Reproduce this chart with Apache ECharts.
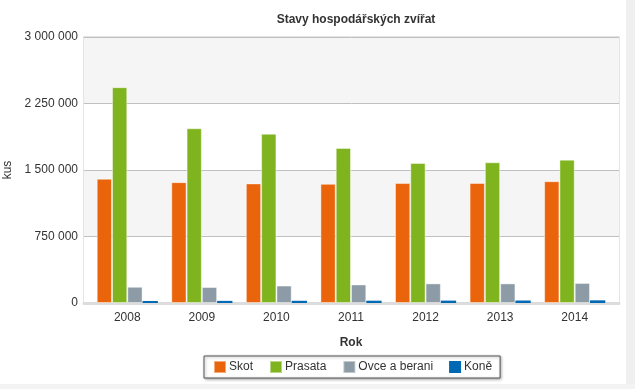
<!DOCTYPE html>
<html><head><meta charset="utf-8">
<script src="https://cdn.jsdelivr.net/npm/echarts@6/dist/echarts.min.js"></script>
<style>html,body{margin:0;padding:0;background:#fff}#c{width:635px;height:389px}</style>
</head><body><div id="c"></div>
<script>
var years = ['2008','2009','2010','2011','2012','2013','2014'];
var skot = [1402000, 1363000, 1349000, 1344000, 1353000, 1354000, 1374000];
var prasata = [2434000, 1971000, 1909000, 1749000, 1579000, 1587000, 1617000];
var ovce = [183000, 180000, 197000, 209000, 221000, 221000, 226000];
var kone = [23000, 24000, 25000, 26000, 27000, 28000, 30000];
var seriesNames = ['Skot','Prasata','Ovce a berani','Koně'];
var yTicks = [0, 750000, 1500000, 2250000, 3000000];
var colors = ['#EA640C','#7FB41E','#8C9BA5','#0069B4'];
var font = '"Liberation Sans", Arial, sans-serif';
function fmt(v){ return String(v).replace(/\B(?=(\d{3})+(?!\d))/g,' '); }
var chart = echarts.init(document.getElementById('c'));
var datas = [skot, prasata, ovce, kone];
var yMax = yTicks[yTicks.length-1], yInt = yTicks[1]-yTicks[0];
chart.setOption({
  animation:false,
  color: colors,
  textStyle:{fontFamily:font},
  title:{text:'Stavy hospodářských zvířat', left:351, top:9, textAlign:'center',
    textStyle:{fontSize:12, fontWeight:'bold', color:'#333', fontFamily:font}},
  graphic:[
    {type:'rect', shape:{x:626,y:0,width:9,height:389}, style:{fill:'#f0f0f0'}, silent:true},
    {type:'rect', shape:{x:0,y:384,width:635,height:5}, style:{fill:'#f3f3f3'}, silent:true}
  ],
  grid:[
    {left:84, right:16, top:37, bottom:86, show:true, borderColor:'#e4e4e4', borderWidth:2,
      backgroundColor:'transparent', containLabel:false, outerBoundsMode:'none'},
    {left:90, right:23, top:37, bottom:86, show:false, containLabel:false, outerBoundsMode:'none'}
  ],
  legend:{data:seriesNames, left:204, top:356, itemWidth:12, itemHeight:12, itemGap:16,
    padding:[4,8,4,9], backgroundColor:'#fff', borderColor:'#555', borderWidth:1,
    shadowColor:'rgba(0,0,0,0.35)', shadowBlur:3, shadowOffsetX:1, shadowOffsetY:1,
    textStyle:{fontSize:12, color:'#333', fontFamily:font, padding:[0,0,0,-2]}, icon:'rect'},
  xAxis:[
    {type:'category', gridIndex:0, data:years, axisLabel:{show:false}, axisTick:{show:false},
      axisLine:{lineStyle:{color:'#dcdcdc', width:3}}},
    {type:'category', gridIndex:1, data:years, name:'Rok', nameLocation:'middle', nameGap:34,
      nameTextStyle:{fontSize:12, fontWeight:'bold', color:'#333', fontFamily:font},
      axisLine:{show:false}, axisTick:{show:false},
      axisLabel:{fontSize:12, color:'#333', margin:9, fontFamily:font}}
  ],
  yAxis:[
    {type:'value', gridIndex:0, min:0, max:yMax, interval:yInt, name:'kus', nameLocation:'middle', nameGap:65,
      nameTextStyle:{fontSize:12, color:'#333', fontFamily:font},
      axisLine:{show:false}, axisTick:{show:false},
      axisLabel:{fontSize:12, color:'#333', margin:6, formatter:fmt, fontFamily:font},
      splitLine:{lineStyle:{color:'#c0c0c0', width:1}},
      splitArea:{show:true, areaStyle:{color:['#ffffff','#f5f5f5']}}},
    {type:'value', gridIndex:1, min:0, max:yMax, interval:yInt, show:false,
      splitLine:{show:false}, splitArea:{show:false}}
  ],
  series: seriesNames.map(function(n,i){
    return {name:n, type:'bar', xAxisIndex:1, yAxisIndex:1, data:datas[i], barGap:'0%', barCategoryGap:'18%',
      itemStyle:{color:colors[i], borderColor:i===3?colors[i]:'rgba(255,255,255,0.45)', borderWidth:i===3?0:1}};
  })
});
</script></body></html>
